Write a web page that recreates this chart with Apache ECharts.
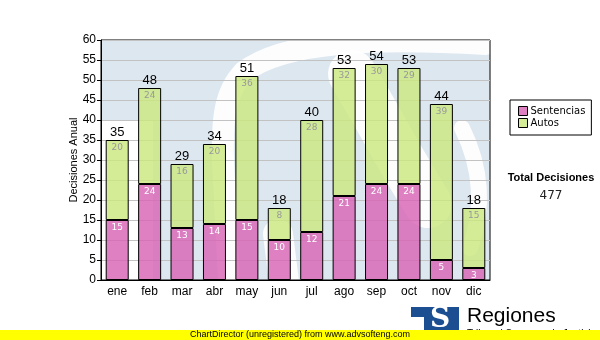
<!DOCTYPE html>
<html>
<head>
<meta charset="utf-8">
<script src="https://cdn.jsdelivr.net/npm/echarts@6/dist/echarts.min.js"></script>
<style>
  html, body { margin: 0; padding: 0; background: #ffffff; }
  #chart { width: 600px; height: 340px; }
</style>
</head>
<body>
<div id="chart"></div>
<script>
// Monthly decisions, split by type
const months = ['ene', 'feb', 'mar', 'abr', 'may', 'jun', 'jul', 'ago', 'sep', 'oct', 'nov', 'dic'];
const sentencias = [15, 24, 13, 14, 15, 10, 12, 21, 24, 24, 5, 3];
const autos = [20, 24, 16, 20, 36, 8, 28, 32, 30, 29, 39, 15];
const totals = sentencias.map((v, i) => v + autos[i]);
const grandTotal = totals.reduce((a, b) => a + b, 0);

const chart = echarts.init(document.getElementById('chart'), null, { renderer: 'canvas' });

const plot = { left: 101, top: 40, width: 389, height: 240 };

// white strokes of the faded logo behind the plot
const curve = (x1, y1, cpx1, cpy1, cpx2, cpy2, x2, y2, w) => ({
  type: 'bezierCurve', silent: true, z: -18,
  shape: { x1, y1, cpx1, cpy1, cpx2, cpy2, x2, y2 },
  style: { fill: null, stroke: 'rgba(255,255,255,0.92)', lineWidth: w, lineCap: 'round' }
});
const stroke = (x1, y1, x2, y2, w) => ({
  type: 'line', silent: true, z: -18,
  shape: { x1, y1, x2, y2 },
  style: { stroke: 'rgba(255,255,255,0.92)', lineWidth: w, lineCap: 'round' }
});
const logoStrokes = [
  curve(486, 44, 380, 38, 285, 40, 244, 72, 22),
  curve(244, 72, 224, 92, 222, 122, 223, 160, 22),
  stroke(223, 160, 229, 282, 22),
  curve(352, 74, 375, 112, 400, 160, 428, 204, 48),
  curve(462, 128, 482, 168, 484, 210, 470, 248, 16),
  stroke(278, 234, 284, 282, 30)
];

chart.setOption({
  animation: false,
  textStyle: { fontFamily: 'Liberation Sans, Arial, sans-serif' },
  grid: {
    left: plot.left, top: plot.top, width: plot.width, height: plot.height,
    show: true, borderColor: '#000', borderWidth: 1, backgroundColor: 'transparent'
  },
  legend: {
    orient: 'vertical',
    left: 510, top: 100,
    width: 82,
    padding: [6, 6, 7, 8],
    itemGap: 2,
    itemWidth: 9, itemHeight: 9,
    borderColor: '#000', borderWidth: 1,
    icon: 'rect',
    itemStyle: { borderColor: '#000', borderWidth: 1, opacity: 1 },
    textStyle: { fontFamily: 'DejaVu Sans, Verdana, sans-serif', fontSize: 10, color: '#000', padding: [0, 0, 0, -2] },
    data: ['Sentencias', 'Autos']
  },
  xAxis: {
    type: 'category',
    data: months,
    axisLine: { lineStyle: { color: '#000', width: 1 } },
    axisTick: { alignWithLabel: true, length: 4, lineStyle: { color: '#000' } },
    axisLabel: { color: '#000', fontSize: 12, margin: 6 },
    splitLine: { show: false }
  },
  yAxis: {
    type: 'value',
    min: 0, max: 60, interval: 5,
    name: 'Decisiones Anual',
    nameLocation: 'middle',
    nameGap: 22,
    nameMoveOverlap: false,
    nameTextStyle: { color: '#000', fontSize: 11 },
    axisLine: { show: true, lineStyle: { color: '#000', width: 1 } },
    axisTick: { show: true, length: 4, lineStyle: { color: '#000' } },
    axisLabel: { color: '#000', fontSize: 12, margin: 5 },
    splitLine: { show: true, lineStyle: { color: '#c2c2c2', width: 1 } }
  },
  graphic: [
    {
      type: 'rect', silent: true, z: -20,
      shape: { x: plot.left, y: plot.top, width: plot.width, height: plot.height },
      style: { fill: '#dde7f0' }
    },
    {
      type: 'rect', silent: true, z: -19,
      shape: { x: plot.left, y: 120, width: 52, height: 160 },
      style: { fill: '#ffffff' }
    }
  ].concat(logoStrokes, [
    // side summary
    {
      type: 'text', silent: true,
      style: { text: 'Total Decisiones', x: 551, y: 178, font: 'bold 11px Liberation Sans', fill: '#000', textAlign: 'center', textVerticalAlign: 'middle' }
    },
    {
      type: 'text', silent: true,
      style: { text: String(grandTotal), x: 551, y: 196, font: '12px DejaVu Sans', fill: '#222', textAlign: 'center', textVerticalAlign: 'middle' }
    },
    // footer logo
    {
      type: 'rect', silent: true,
      shape: { x: 411, y: 307, width: 48, height: 24 },
      style: { fill: '#1b4f91' }
    },
    {
      type: 'rect', silent: true,
      shape: { x: 411, y: 317, width: 13, height: 14 },
      style: { fill: '#ffffff' }
    },
    {
      type: 'text', silent: true,
      style: { text: 'S', x: 440, y: 320, font: 'bold 28px DejaVu Serif', fill: '#fff', textAlign: 'center', textVerticalAlign: 'middle' }
    },
    {
      type: 'text', silent: true,
      style: { text: 'Regiones', x: 467, y: 316, font: '21px Liberation Sans', fill: '#000', textVerticalAlign: 'middle' }
    },
    {
      type: 'text', silent: true,
      style: { text: 'Tribunal Supremo de Justicia', x: 467, y: 334, font: '10px Liberation Sans', fill: '#000', textVerticalAlign: 'middle' }
    },
    // footer strip
    {
      type: 'rect', silent: true, z: 50,
      shape: { x: 0, y: 330, width: 600, height: 10 },
      style: { fill: '#ffff00' }
    },
    {
      type: 'text', silent: true, z: 51,
      style: { text: 'ChartDirector (unregistered) from www.advsofteng.com', x: 300, y: 335, font: '9px Liberation Sans', fill: '#000', textAlign: 'center', textVerticalAlign: 'middle' }
    }
  ]),
  series: [
    {
      name: 'Sentencias', type: 'bar', stack: 'd', barWidth: 23,
      data: sentencias,
      itemStyle: { color: 'rgba(216,100,180,0.82)', borderColor: '#000', borderWidth: 1 },
      label: { show: true, position: 'insideTop', distance: 3, color: '#fff', fontSize: 9, fontFamily: 'DejaVu Sans' }
    },
    {
      name: 'Autos', type: 'bar', stack: 'd', barWidth: 23,
      data: autos,
      itemStyle: { color: 'rgba(204,232,128,0.82)', borderColor: '#000', borderWidth: 1 },
      label: { show: true, position: 'insideTop', distance: 3, color: '#999', fontSize: 9, fontFamily: 'DejaVu Sans' }
    },
    {
      name: 'Total', type: 'scatter', data: totals,
      symbol: 'rect', symbolSize: 1, silent: true,
      itemStyle: { color: 'rgba(0,0,0,0)' },
      label: { show: true, position: 'top', distance: 1, color: '#000', opacity: 1, fontSize: 13 },
      z: 5
    }
  ]
});
</script>
</body>
</html>
